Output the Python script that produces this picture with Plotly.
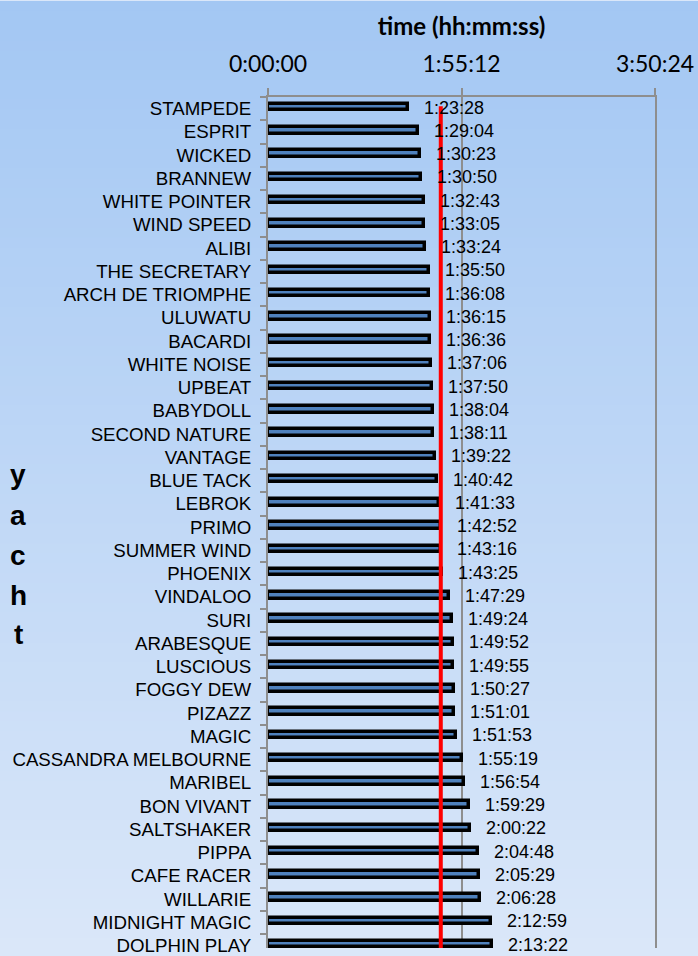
import statistics
import plotly.graph_objects as go

yachts = [
    "STAMPEDE", "ESPRIT", "WICKED", "BRANNEW", "WHITE POINTER", "WIND SPEED", "ALIBI",
    "THE SECRETARY", "ARCH DE TRIOMPHE", "ULUWATU", "BACARDI", "WHITE NOISE", "UPBEAT",
    "BABYDOLL", "SECOND NATURE", "VANTAGE", "BLUE TACK", "LEBROK", "PRIMO", "SUMMER WIND",
    "PHOENIX", "VINDALOO", "SURI", "ARABESQUE", "LUSCIOUS", "FOGGY DEW", "PIZAZZ", "MAGIC",
    "CASSANDRA MELBOURNE", "MARIBEL", "BON VIVANT", "SALTSHAKER", "PIPPA", "CAFE RACER",
    "WILLARIE", "MIDNIGHT MAGIC", "DOLPHIN PLAY",
]
times = [
    "1:23:28", "1:29:04", "1:30:23", "1:30:50", "1:32:43", "1:33:05", "1:33:24",
    "1:35:50", "1:36:08", "1:36:15", "1:36:36", "1:37:06", "1:37:50",
    "1:38:04", "1:38:11", "1:39:22", "1:40:42", "1:41:33", "1:42:52", "1:43:16",
    "1:43:25", "1:47:29", "1:49:24", "1:49:52", "1:49:55", "1:50:27", "1:51:01", "1:51:53",
    "1:55:19", "1:56:54", "1:59:29", "2:00:22", "2:04:48", "2:05:29",
    "2:06:28", "2:12:59", "2:13:22",
]
tick_values = [0, 6912, 13824]
tick_labels = ["0:00:00", "1:55:12", "3:50:24"]
x_title = "time (hh:mm:ss)"
y_title = "yacht"


def to_sec(t):
    h, m, s = (int(p) for p in t.split(":"))
    return h * 3600 + m * 60 + s


secs = [to_sec(t) for t in times]
median_time = statistics.median(secs)

W, H = 698, 956
L, R, T, B = 268, 43, 97, 0
PW, PH = W - L - R, H - T - B
GRAY = "#8E8E8E"
ROW = 23.47

fig = go.Figure()
fig.add_trace(go.Bar(
    x=secs, y=yachts, orientation="h", width=0.28, offset=-0.21,
    marker=dict(color="#4F81BD", line=dict(color="black", width=3.5)),
    hoverinfo="skip", showlegend=False,
))

annotations = []
for name, s, t in zip(yachts, secs, times):
    annotations.append(dict(
        x=s, y=name, xref="x", yref="y", text=t, showarrow=False,
        xanchor="left", yanchor="middle", xshift=14, yshift=1,
        font=dict(family="Liberation Sans, Arial", size=18, color="black"),
    ))

# stacked y-axis title letters
letter_y_px = [478, 519, 560, 600, 640]
for ch, ypx in zip(y_title, letter_y_px):
    annotations.append(dict(
        x=(18 - L) / PW, y=1 - (ypx - T) / PH, xref="paper", yref="paper",
        text="<b>%s</b>" % ch, showarrow=False, xanchor="center", yanchor="middle",
        font=dict(family="Liberation Sans, Arial", size=28, color="black"),
    ))

shapes = []
# background gradient
top_c = (0xA3, 0xC7, 0xF3)
bot_c = (0xDA, 0xE7, 0xF9)
n = 96
step = H / n
for i in range(n):
    y0px = i * step
    y1px = (i + 1) * step + 1
    f = (i + 0.5) / n
    c = tuple(round(a + (b - a) * f) for a, b in zip(top_c, bot_c))
    shapes.append(dict(
        type="rect", xref="paper", yref="paper", layer="below",
        x0=-L / PW - 0.01, x1=1 + R / PW + 0.01,
        y0=1 - (y1px - T) / PH, y1=1 - (y0px - T) / PH,
        fillcolor="rgb(%d,%d,%d)" % c, line=dict(width=0),
    ))
# median line
shapes.append(dict(
    type="line", xref="x", yref="y", x0=median_time, x1=median_time,
    y0=-0.1, y1=len(yachts) + 2, line=dict(color="#FF0000", width=4), layer="above",
))

fig.update_layout(
    width=W, height=H,
    margin=dict(l=L, r=R, t=T, b=B, pad=0),
    paper_bgcolor="rgb(%d,%d,%d)" % bot_c,
    plot_bgcolor="rgba(0,0,0,0)",
    showlegend=False,
    annotations=annotations,
    shapes=shapes,
    bargap=0,
    xaxis=dict(
        side="top", range=[0, 13824], tickvals=tick_values, ticktext=tick_labels,
        tickfont=dict(family="Lato", size=23, color="black"),
        ticks="outside", ticklen=7, tickcolor=GRAY, tickwidth=2,
        showline=True, linecolor=GRAY, linewidth=2,
        showgrid=True, gridcolor=GRAY, gridwidth=2, zeroline=False,
        ticklabelstandoff=7,
        title=dict(text="<b>%s</b>" % x_title, standoff=6,
                   font=dict(family="Lato", size=24, color="black")),
    ),
    yaxis=dict(
        type="category", categoryorder="array", categoryarray=yachts,
        range=[-0.5 + PH / ROW, -0.5],
        tickson="boundaries", ticks="outside", ticklen=6, tickcolor=GRAY, tickwidth=2,
        showline=True, mirror=True, linecolor=GRAY, linewidth=2,
        showgrid=False, zeroline=False,
        tickfont=dict(family="Liberation Sans, Arial", size=18.7, color="black"),
        ticklabelstandoff=11,
    ),
)

fig.write_html(
    "out.html", config={"displayModeBar": False},
    post_script=("document.body.style.margin='0';"
                 "document.body.style.overflow='hidden';"
                 "document.documentElement.style.overflow='hidden';"),
)
